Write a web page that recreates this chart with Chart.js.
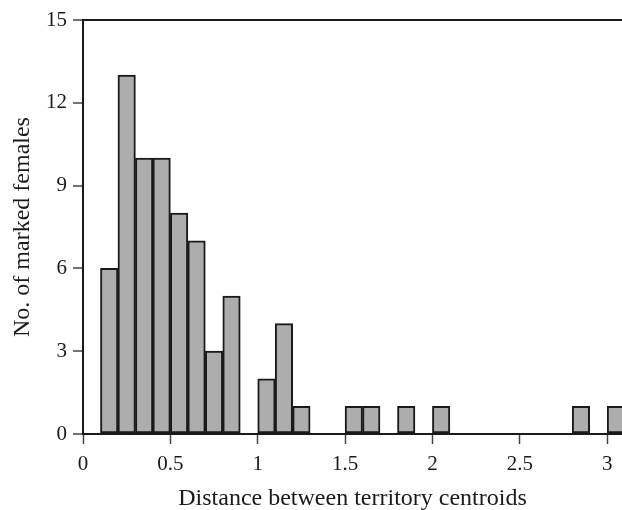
<!DOCTYPE html>
<html lang="en">
  <head>
    <meta charset="UTF-8" />
    <title>Territory centroid distances</title>
    <style>
      html, body { margin: 0; padding: 0; background: #fff; }
      #chart-box { width: 622px; height: 510px; }
    </style>
  </head>
  <body>
    <div id="chart-box"><canvas id="myChart"></canvas></div>
    <script src="https://cdn.jsdelivr.net/npm/chart.js"></script>
    <script>
      // histogram bins, width 0.1
      const binStarts = [0.1, 0.2, 0.3, 0.4, 0.5, 0.6, 0.7, 0.8, 0.9, 1.0,
        1.1, 1.2, 1.3, 1.4, 1.5, 1.6, 1.7, 1.8, 1.9, 2.0,
        2.1, 2.2, 2.3, 2.4, 2.5, 2.6, 2.7, 2.8, 2.9, 3.0]
      const counts = [6, 13, 10, 10, 8, 7, 3, 5, 0, 2,
        4, 1, 0, 0, 1, 1, 0, 1, 0, 1,
        0, 0, 0, 0, 0, 0, 0, 1, 0, 1]
      const binWidth = 0.1
      const yTicks = [0, 3, 6, 9, 12, 15]
      const xTitle = 'Distance between territory centroids'
      const yTitle = 'No. of marked females'

      const ink = '#1a1a1a'
      const serif = 'Liberation Serif'

      const points = binStarts.map((s, i) => ({ x: s + binWidth / 2, y: counts[i] }))

      const ctx = document.getElementById('myChart')
      const myChart = new Chart(ctx, {
        type: 'bar',
        data: {
          datasets: [
            {
              data: points,
              backgroundColor: '#adadad',
              borderColor: ink,
              borderWidth: 2,
              borderSkipped: false,
              barPercentage: 1,
              categoryPercentage: 1
            }
          ]
        },
        options: {
          responsive: true,
          maintainAspectRatio: false,
          animation: false,
          layout: { padding: { top: 20, right: 0, left: 0, bottom: 0 } },
          plugins: {
            legend: { display: false },
            tooltip: { enabled: false }
          },
          scales: {
            x: {
              type: 'linear',
              offset: false,
              min: 0,
              max: 3.085,
              afterFit: (scale) => { scale.height = 76 },
              ticks: {
                stepSize: 0.5,
                includeBounds: false,
                color: ink,
                padding: 8,
                maxRotation: 0,
                font: { family: serif, size: 21 },
                callback: (v) => String(v)
              },
              grid: {
                offset: false,
                drawOnChartArea: false,
                tickLength: 10,
                tickColor: '#444',
                tickWidth: 1.5
              },
              border: { color: ink, width: 2 },
              title: {
                display: true,
                text: xTitle,
                color: ink,
                padding: { top: 0, bottom: -3 },
                font: { family: serif, size: 24 }
              }
            },
            y: {
              min: 0,
              max: 15,
              afterFit: (scale) => { scale.width = 83 },
              afterBuildTicks: (scale) => {
                scale.ticks = yTicks.map((v) => ({ value: v }))
              },
              ticks: {
                color: ink,
                padding: 6,
                font: { family: serif, size: 21 }
              },
              grid: {
                drawOnChartArea: true,
                tickLength: 10,
                tickColor: '#444',
                tickWidth: 1.5,
                lineWidth: 2,
                color: (c) => (c.tick && c.tick.value === 15 ? ink : 'rgba(0,0,0,0)')
              },
              border: { color: ink, width: 2 },
              title: {
                display: true,
                text: yTitle,
                color: ink,
                padding: { top: 8, bottom: 0 },
                font: { family: serif, size: 24 }
              }
            }
          }
        }
      })
    </script>
  </body>
</html>
